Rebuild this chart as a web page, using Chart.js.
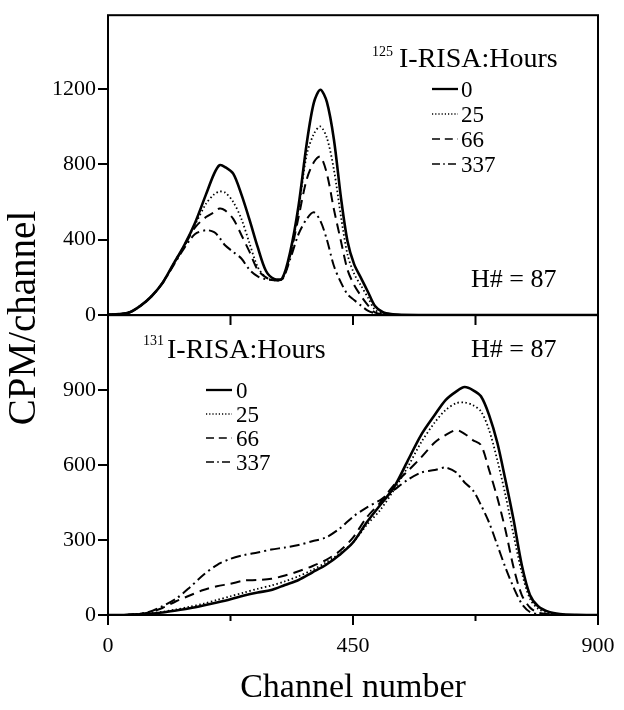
<!DOCTYPE html>
<html>
<head>
<meta charset="utf-8">
<script src="https://cdn.jsdelivr.net/npm/chart.js@4.4.1/dist/chart.umd.min.js"></script>
<style>
  body { margin: 0; background: #fff; }
  #wrap { width: 624px; height: 710px; }
</style>
</head>
<body>
<div id="wrap"><canvas id="spectra"></canvas></div>
<script>
// channel positions
var chTop = [0, 20, 40, 60, 80, 100, 120, 140, 160, 180, 195, 205, 215, 230, 245, 260, 275, 290, 305, 320,
             335, 350, 365, 378, 390, 402, 415, 428, 440, 452, 465, 478, 490, 505, 520, 540, 600, 700, 800, 900];
var chBot = [0, 25, 50, 75, 100, 125, 150, 175, 200, 225, 250, 275, 300, 325, 350, 375, 400, 425, 450, 475,
             500, 525, 550, 575, 600, 620, 640, 655, 670, 685, 700, 715, 730, 745, 760, 775, 790, 810, 830, 860, 900];

// 125I-RISA (top panel), CPM/channel
var top0   = [3, 5, 15, 50, 100, 170, 270, 370, 490, 640, 750, 795, 785, 750, 640, 505, 360, 235, 192, 195,
              340, 580, 910, 1125, 1195, 1130, 930, 620, 390, 270, 195, 120, 50, 15, 5, 2, 0, 0, 0, 0];
var top25  = [3, 5, 15, 50, 100, 170, 270, 370, 480, 590, 640, 655, 650, 600, 510, 380, 255, 200, 185, 192,
              320, 560, 850, 960, 1000, 940, 770, 520, 320, 220, 155, 90, 30, 6, 2, 0, 0, 0, 0, 0];
var top66  = [3, 5, 15, 50, 100, 170, 268, 365, 465, 520, 545, 565, 555, 510, 425, 335, 240, 200, 185, 192,
              320, 520, 720, 810, 840, 750, 560, 390, 240, 160, 100, 50, 15, 4, 1, 0, 0, 0, 0, 0];
var top337 = [3, 5, 15, 50, 100, 168, 262, 355, 430, 450, 440, 410, 370, 335, 300, 240, 205, 190, 185, 190,
              300, 430, 510, 545, 500, 400, 260, 172, 110, 80, 50, 22, 10, 3, 1, 0, 0, 0, 0, 0];

// 131I-RISA (bottom panel), CPM/channel
var bot0   = [0, 0, 2, 5, 10, 18, 27, 38, 50, 63, 78, 90, 100, 120, 140, 170, 200, 240, 290, 370,
              440, 510, 615, 720, 800, 860, 895, 912, 900, 875, 800, 690, 540, 380, 200, 80, 35, 12, 4, 1, 0];
var bot25  = [0, 0, 2, 6, 13, 22, 33, 45, 60, 75, 90, 105, 118, 135, 155, 180, 210, 245, 290, 360,
              420, 500, 590, 690, 770, 820, 848, 850, 840, 815, 740, 620, 480, 320, 170, 65, 25, 8, 2, 0, 0];
var bot66  = [0, 0, 3, 10, 28, 55, 78, 100, 115, 125, 138, 140, 145, 158, 175, 195, 220, 255, 310, 390,
              450, 520, 575, 630, 690, 720, 740, 725, 700, 680, 580, 470, 340, 190, 80, 30, 10, 3, 0, 0, 0];
var bot337 = [0, 0, 3, 12, 35, 65, 110, 160, 200, 225, 240, 250, 262, 270, 280, 295, 310, 345, 393, 430,
              460, 500, 540, 570, 580, 590, 570, 530, 500, 440, 370, 280, 190, 110, 45, 12, 4, 1, 0, 0, 0];

var hours = ['0', '25', '66', '337'];
var xTicks = [0, 450, 900];
var minorTicks = [225, 675];
var innerTicks = [225, 450, 675];
var yTopTicks = [0, 400, 800, 1200];
var yBotTicks = [0, 300, 600, 900];

var serif = 'Liberation Serif, Times New Roman, serif';
var lineStyles = [
    { width: 2.6, dash: [] },
    { width: 1.8, dash: [1.5, 2.5] },
    { width: 2, dash: [10, 6] },
    { width: 2, dash: [10, 4, 2, 4] }
];

function toPoints(xs, ys) {
    return xs.map((c, i) => ({ x: c, y: ys[i] }));
}

function makeSet(xs, ys, i, axis) {
    return {
        data: toPoints(xs, ys),
        yAxisID: axis,
        borderColor: '#000',
        borderWidth: lineStyles[i].width,
        borderDash: lineStyles[i].dash,
        pointRadius: 0,
        tension: 0.3,
        fill: false
    };
}

function drawKey(ctx, x0, x1, xt, rows) {
    hours.forEach((h, i) => {
        ctx.save();
        ctx.lineWidth = lineStyles[i].width - 0.3;
        ctx.setLineDash(lineStyles[i].dash.map(d => d * 0.8));
        ctx.beginPath();
        ctx.moveTo(x0, rows[i] - 8);
        ctx.lineTo(x1, rows[i] - 8);
        ctx.stroke();
        ctx.restore();
        ctx.fillText(h, xt, rows[i]);
    });
}

const panels = {
    id: 'panels',
    afterDatasetsDraw(chart) {
        const ctx = chart.ctx;
        const x = chart.scales.x, yt = chart.scales.yTop, yb = chart.scales.yBot;
        ctx.save();
        ctx.strokeStyle = '#000';
        ctx.fillStyle = '#000';
        ctx.lineWidth = 2;
        ctx.strokeRect(x.left, yt.top, x.right - x.left, yt.bottom - yt.top);
        ctx.strokeRect(x.left, yb.top, x.right - x.left, yb.bottom - yb.top);
        ctx.beginPath();
        innerTicks.forEach(v => {
            const px = x.getPixelForValue(v);
            ctx.moveTo(px, yb.top);
            ctx.lineTo(px, yb.top + 10);
        });
        minorTicks.forEach(v => {
            const px = x.getPixelForValue(v);
            ctx.moveTo(px, yb.bottom);
            ctx.lineTo(px, yb.bottom + 6);
        });
        ctx.stroke();

        ctx.textAlign = 'left';
        ctx.textBaseline = 'alphabetic';
        // top panel key
        ctx.font = '14px ' + serif;
        ctx.fillText('125', 372, 56);
        ctx.font = '28px ' + serif;
        ctx.fillText('I-RISA:Hours', 399, 67);
        ctx.font = '26px ' + serif;
        ctx.fillText('H# = 87', 471, 287);
        ctx.font = '23px ' + serif;
        drawKey(ctx, 432, 458, 461, [97, 122, 147, 172]);
        // bottom panel key
        ctx.font = '14px ' + serif;
        ctx.fillText('131', 143, 345);
        ctx.font = '28px ' + serif;
        ctx.fillText('I-RISA:Hours', 167, 358);
        ctx.font = '26px ' + serif;
        ctx.fillText('H# = 87', 471, 357);
        ctx.font = '23px ' + serif;
        drawKey(ctx, 206, 232, 236, [398, 422, 446, 470]);

        // shared y title
        ctx.translate(25, 318);
        ctx.rotate(-Math.PI / 2);
        ctx.textAlign = 'center';
        ctx.textBaseline = 'middle';
        ctx.font = '39px ' + serif;
        ctx.fillText('CPM/channel', 0, 0);
        ctx.restore();
    }
};

function yAxis(max, tickVals, weight) {
    return {
        type: 'linear',
        position: 'left',
        stack: 'panels',
        stackWeight: 1,
        weight: weight,
        min: 0,
        max: max,
        border: { display: false },
        grid: { drawOnChartArea: false, drawTicks: true, tickLength: 10, color: '#000', lineWidth: 2 },
        afterBuildTicks: s => { s.ticks = tickVals.map(v => ({ value: v })); },
        ticks: {
            padding: 2,
            color: '#000',
            font: { family: serif, size: 22 },
            callback: v => String(v)
        },
        afterFit: s => { s.width = 60; }
    };
}

new Chart(document.getElementById('spectra'), {
    type: 'line',
    data: {
        datasets: [
            makeSet(chTop, top0, 0, 'yTop'),
            makeSet(chTop, top25, 1, 'yTop'),
            makeSet(chTop, top66, 2, 'yTop'),
            makeSet(chTop, top337, 3, 'yTop'),
            makeSet(chBot, bot0, 0, 'yBot'),
            makeSet(chBot, bot25, 1, 'yBot'),
            makeSet(chBot, bot66, 2, 'yBot'),
            makeSet(chBot, bot337, 3, 'yBot')
        ]
    },
    options: {
        responsive: true,
        maintainAspectRatio: false,
        animation: false,
        layout: { padding: { left: 48, right: 26, top: 13, bottom: 0 } },
        plugins: { legend: { display: false }, tooltip: { enabled: false } },
        scales: {
            x: {
                type: 'linear',
                min: 0,
                max: 900,
                border: { display: false },
                grid: { drawOnChartArea: false, tickLength: 10, color: '#000', lineWidth: 2 },
                afterBuildTicks: s => { s.ticks = xTicks.map(v => ({ value: v })); },
                ticks: { padding: 8, color: '#000', maxRotation: 0, font: { family: serif, size: 22 },
                         callback: v => String(v) },
                title: { display: true, text: 'Channel number', color: '#000',
                         font: { family: serif, size: 34 }, padding: { top: 0, bottom: 2 } },
                afterFit: s => { s.height = 95; }
            },
            yTop: yAxis(1590, yTopTicks, 1),
            yBot: yAxis(1200, yBotTicks, 0)
        }
    },
    plugins: [panels]
});
</script>
</body>
</html>
